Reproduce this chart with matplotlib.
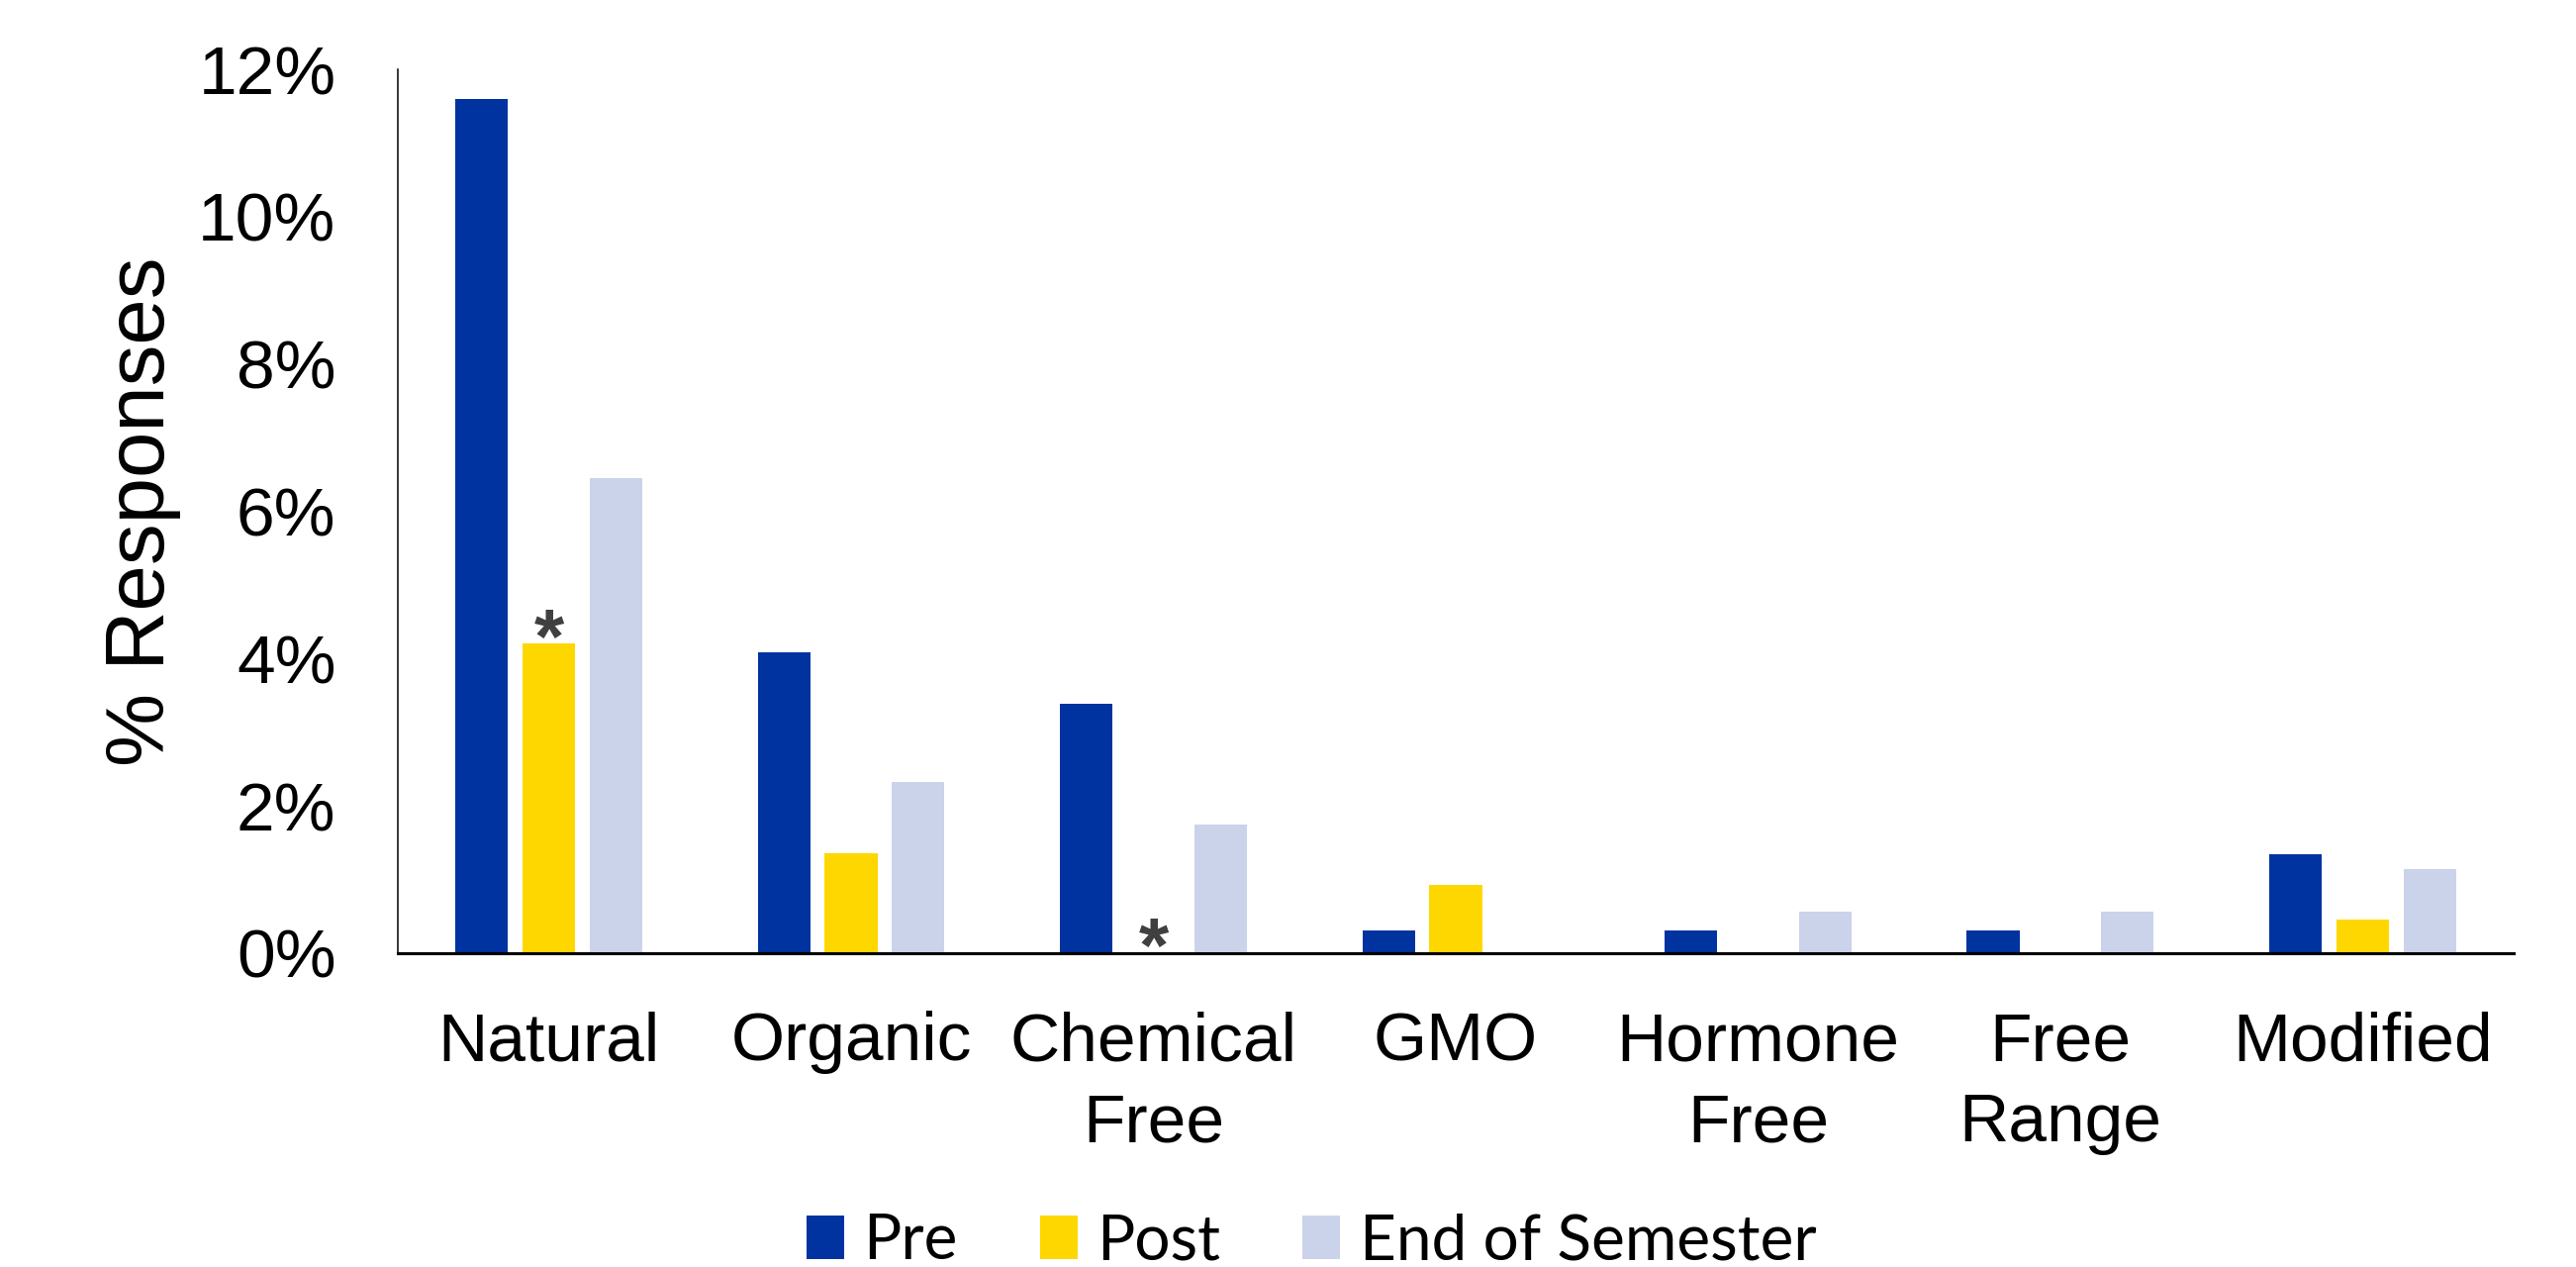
import numpy as np
import matplotlib
matplotlib.use('Agg')
import matplotlib.pyplot as plt
from matplotlib.ticker import FuncFormatter, MultipleLocator

# data (percent of responses)
categories = ['Natural', 'Organic', 'Chemical\nFree', 'GMO',
              'Hormone\nFree', 'Free\nRange', 'Modified']
pre = [11.6, 4.08, 3.39, 0.31, 0.31, 0.31, 1.34]
post = [4.2, 1.36, 0.0, 0.92, 0.0, 0.0, 0.45]
end_sem = [6.45, 2.32, 1.74, 0.0, 0.56, 0.56, 1.14]
series_names = ['Pre', 'Post', 'End of Semester']

# significance markers: (category index, series index)
stars = [(0, 1), (2, 1)]

colors = ['#0033A0', '#FFD700', '#CBD3EB']

plt.rcParams['font.family'] = ['Liberation Sans', 'DejaVu Sans']

fig = plt.figure(figsize=(26.03, 12.80), dpi=100)
ax = fig.add_axes([0.1544, 0.2477, 0.8214, 0.6976])

x = np.arange(len(categories))
width = 0.174
step = 0.222
series = [pre, post, end_sem]
for i, (vals, name, c) in enumerate(zip(series, series_names, colors)):
    ax.bar(x + (i - 1) * step, vals, width, color=c, label=name)

for ci, si in stars:
    xs = x[ci] + (si - 1) * step
    ys = series[si][ci]
    ax.annotate('*', (xs, ys), xytext=(0, -14), textcoords='offset points',
                ha='center', va='baseline', fontsize=56, fontweight='bold',
                color='#404040')

ax.set_xlim(-0.5, len(categories) - 0.5)
ax.set_ylim(0, 12)
ax.yaxis.set_major_locator(MultipleLocator(2))
ax.yaxis.set_major_formatter(FuncFormatter(lambda v, p: f'{v:.0f}%'))
ax.set_xticks(x)
ax.set_xticklabels(categories, linespacing=1.36)

ax.tick_params(axis='y', length=0, pad=45, labelsize=50)
ax.tick_params(axis='x', length=0, pad=42, labelsize=50)

for s in ['top', 'right']:
    ax.spines[s].set_visible(False)
ax.spines['left'].set_linewidth(1.1)
ax.spines['bottom'].set_linewidth(2.2)

ax.set_ylabel('% Responses', fontsize=60, labelpad=12)

fig.legend(loc='center', bbox_to_anchor=(0.509, 0.02), ncol=3, frameon=False,
           prop={'family': 'Lato', 'size': 46},
           handlelength=0.6, handleheight=0.7, handletextpad=0.3,
           columnspacing=1.3)

fig.savefig('out.png', dpi=100)
